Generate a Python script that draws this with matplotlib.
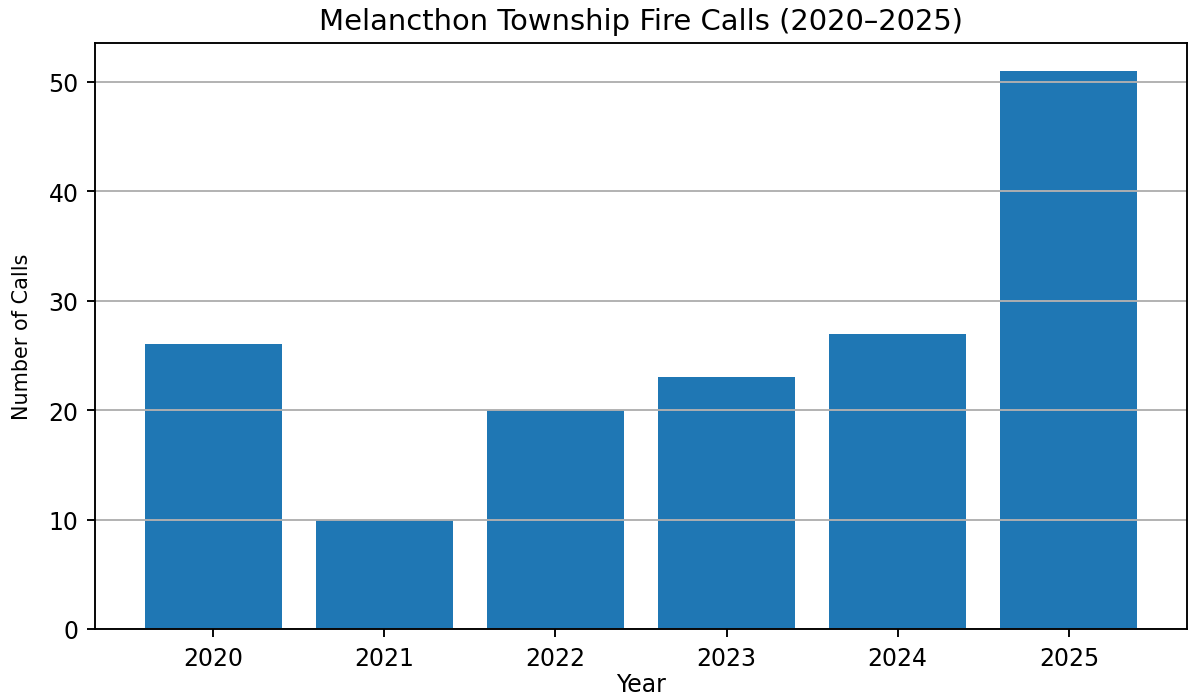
import matplotlib
matplotlib.use("Agg")
import matplotlib.pyplot as plt

# Fire calls per year
years = ["2020", "2021", "2022", "2023", "2024", "2025"]
calls = [26, 10, 20, 23, 27, 51]

DPI = 170


def plot_calls(years, calls):
    """Bar chart of yearly fire calls."""
    fig = plt.figure(figsize=(1191 / DPI, 698 / DPI), dpi=DPI)
    ax = fig.add_axes([95 / 1191, 1 - 630 / 698, (1187 - 95) / 1191, (630 - 44) / 698])
    ax.bar(years, calls, color="#1f77b4")
    ax.set_title("Melancthon Township Fire Calls (2020\u20132025)", fontsize=12.3)
    ax.set_xlabel("Year", labelpad=1)
    ax.set_ylabel("Number of Calls", fontsize=8.8, labelpad=7)
    ax.grid(axis="y")
    fig.savefig("out.png", dpi=DPI)


if __name__ == "__main__":
    plot_calls(years, calls)
